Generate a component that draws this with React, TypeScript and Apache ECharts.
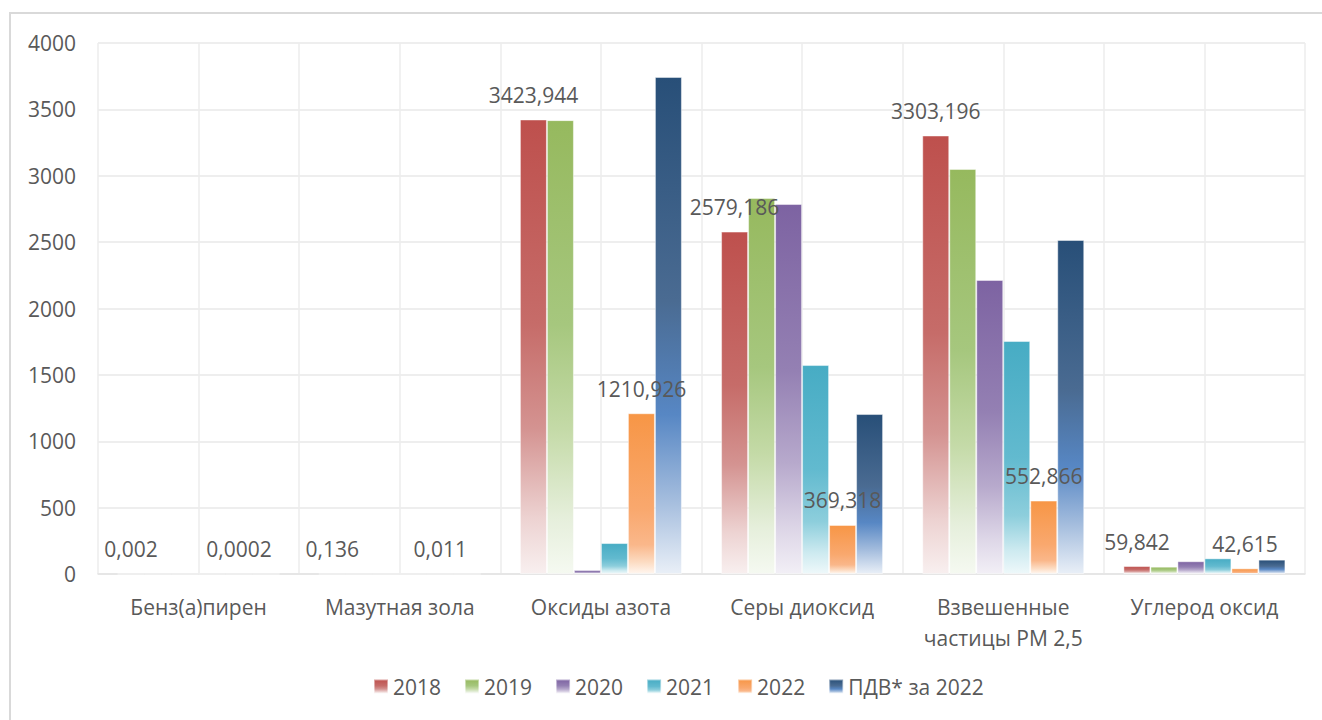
import React, { useEffect, useRef } from "react";
import * as echarts from "echarts";

const categories = [
  "Бенз(а)пирен",
  "Мазутная зола",
  "Оксиды азота",
  "Серы диоксид",
  "Взвешенные\nчастицы PM 2,5",
  "Углерод оксид",
];

const seriesNames = ["2018", "2019", "2020", "2021", "2022", "ПДВ* за 2022"];

const values2018 = [0.002, 0.136, 3423.944, 2579.186, 3303.196, 59.842];
const values2019 = [0.001, 0.12, 3419, 2832, 3051, 55];
const values2020 = [0.001, 0.1, 30, 2787, 2215, 96];
const values2021 = [0.0002, 0.01, 233, 1574, 1755, 118];
const values2022 = [0.0002, 0.011, 1210.926, 369.318, 552.866, 42.615];
const valuesPdv = [0.004, 0.15, 3744, 1205, 2516, 108];

const yTicks = { min: 0, max: 4000, interval: 500 };

const gradients: Array<Array<[number, string]>> = [
  [[0, "#BE504D"], [0.45, "#C66C69"], [0.68, "#D49391"], [0.88, "#EDD3D2"], [1, "#F8EFEF"]],
  [[0, "#96B95E"], [0.45, "#A6C77E"], [0.68, "#C4DAA7"], [0.88, "#E6EFDC"], [1, "#F5F9F1"]],
  [[0, "#7D63A2"], [0.45, "#9480B3"], [0.7, "#B7A9CC"], [0.88, "#DDD6E7"], [1, "#F2EFF6"]],
  [[0, "#47ACC4"], [0.5, "#62BACF"], [0.75, "#8DCEDC"], [0.9, "#CDEAF0"], [1, "#EEF8FA"]],
  [[0, "#F79646"], [0.6, "#F9A86E"], [0.82, "#FAB78A"], [0.93, "#FCDCC3"], [1, "#FFF6EF"]],
  [[0, "#284F78"], [0.45, "#4A6B92"], [0.68, "#5787C4"], [0.85, "#A3BCDD"], [1, "#E9EFF7"]],
];

const allValues = [values2018, values2019, values2020, values2021, values2022, valuesPdv];
const labelledSeries = [0, 4];

const FONT = "'Open Sans', 'Liberation Sans', sans-serif";
const TEXT_COLOR = "#595959";

export default function App() {
  const ref = useRef<HTMLDivElement>(null);

  useEffect(() => {
    document.body.style.margin = "0";
    document.body.style.overflow = "hidden";
    if (!ref.current) return;
    const chart = echarts.init(ref.current, undefined, { renderer: "svg" });

    const series = seriesNames.map((name, i) => ({
      name,
      type: "bar",
      xAxisIndex: 0,
      yAxisIndex: 0,
      barWidth: 27,
      barGap: "0%",
      data: allValues[i],
      itemStyle: {
        color: new echarts.graphic.LinearGradient(
          0,
          0,
          0,
          1,
          gradients[i].map(([offset, color]) => ({ offset, color }))
        ),
        borderColor: "rgba(255,255,255,0.45)",
        borderWidth: 1,
      },
      label: labelledSeries.includes(i)
        ? {
            show: true,
            position: "top",
            distance: 14,
            fontSize: 21,
            fontFamily: FONT,
            color: TEXT_COLOR,
            formatter: (p: any) => String(p.value).replace(".", ","),
          }
        : { show: false },
    }));

    chart.setOption({
      animation: false,
      backgroundColor: "#ffffff",
      textStyle: { fontFamily: FONT },
      graphic: [
        {
          type: "rect",
          shape: { x: 10, y: 13, width: 1340, height: 740 },
          style: { fill: "none", stroke: "#d9d9d9", lineWidth: 2 },
          silent: true,
          z: -10,
        },
      ],
      legend: {
        left: 373,
        top: 676,
        padding: 0,
        itemWidth: 14,
        itemHeight: 14,
        itemGap: 23,
        icon: "rect",
        textStyle: {
          fontSize: 21,
          fontFamily: FONT,
          color: TEXT_COLOR,
        },
        data: seriesNames,
      },
      grid: { left: 98, right: 17, top: 43, bottom: 146, containLabel: false },
      xAxis: [
        {
          type: "category",
          data: categories,
          axisLine: { show: true, lineStyle: { color: "#e3e3e3", width: 1.5 } },
          axisTick: { show: false },
          splitLine: { show: false },
          axisLabel: {
            fontSize: 21,
            fontFamily: FONT,
            color: TEXT_COLOR,
            margin: 17,
            lineHeight: 31,
            interval: 0,
          },
        },
        {
          type: "value",
          min: 0,
          max: 12,
          interval: 1,
          position: "bottom",
          axisLine: { show: false },
          axisTick: { show: false },
          axisLabel: { show: false },
          splitLine: { show: true, lineStyle: { color: "#ececec", width: 1.5 } },
        },
      ],
      yAxis: {
        type: "value",
        min: yTicks.min,
        max: yTicks.max,
        interval: yTicks.interval,
        axisLine: { show: false },
        axisTick: { show: false },
        axisLabel: {
          fontSize: 21,
          fontFamily: FONT,
          color: TEXT_COLOR,
          margin: 22,
          formatter: (v: number) => String(v),
        },
        splitLine: { show: true, lineStyle: { color: "#e9e9e9", width: 1.5 } },
      },
      series,
    });

    return () => {
      chart.dispose();
    };
  }, []);

  return <div ref={ref} style={{ width: 1322, height: 720 }} />;
}
